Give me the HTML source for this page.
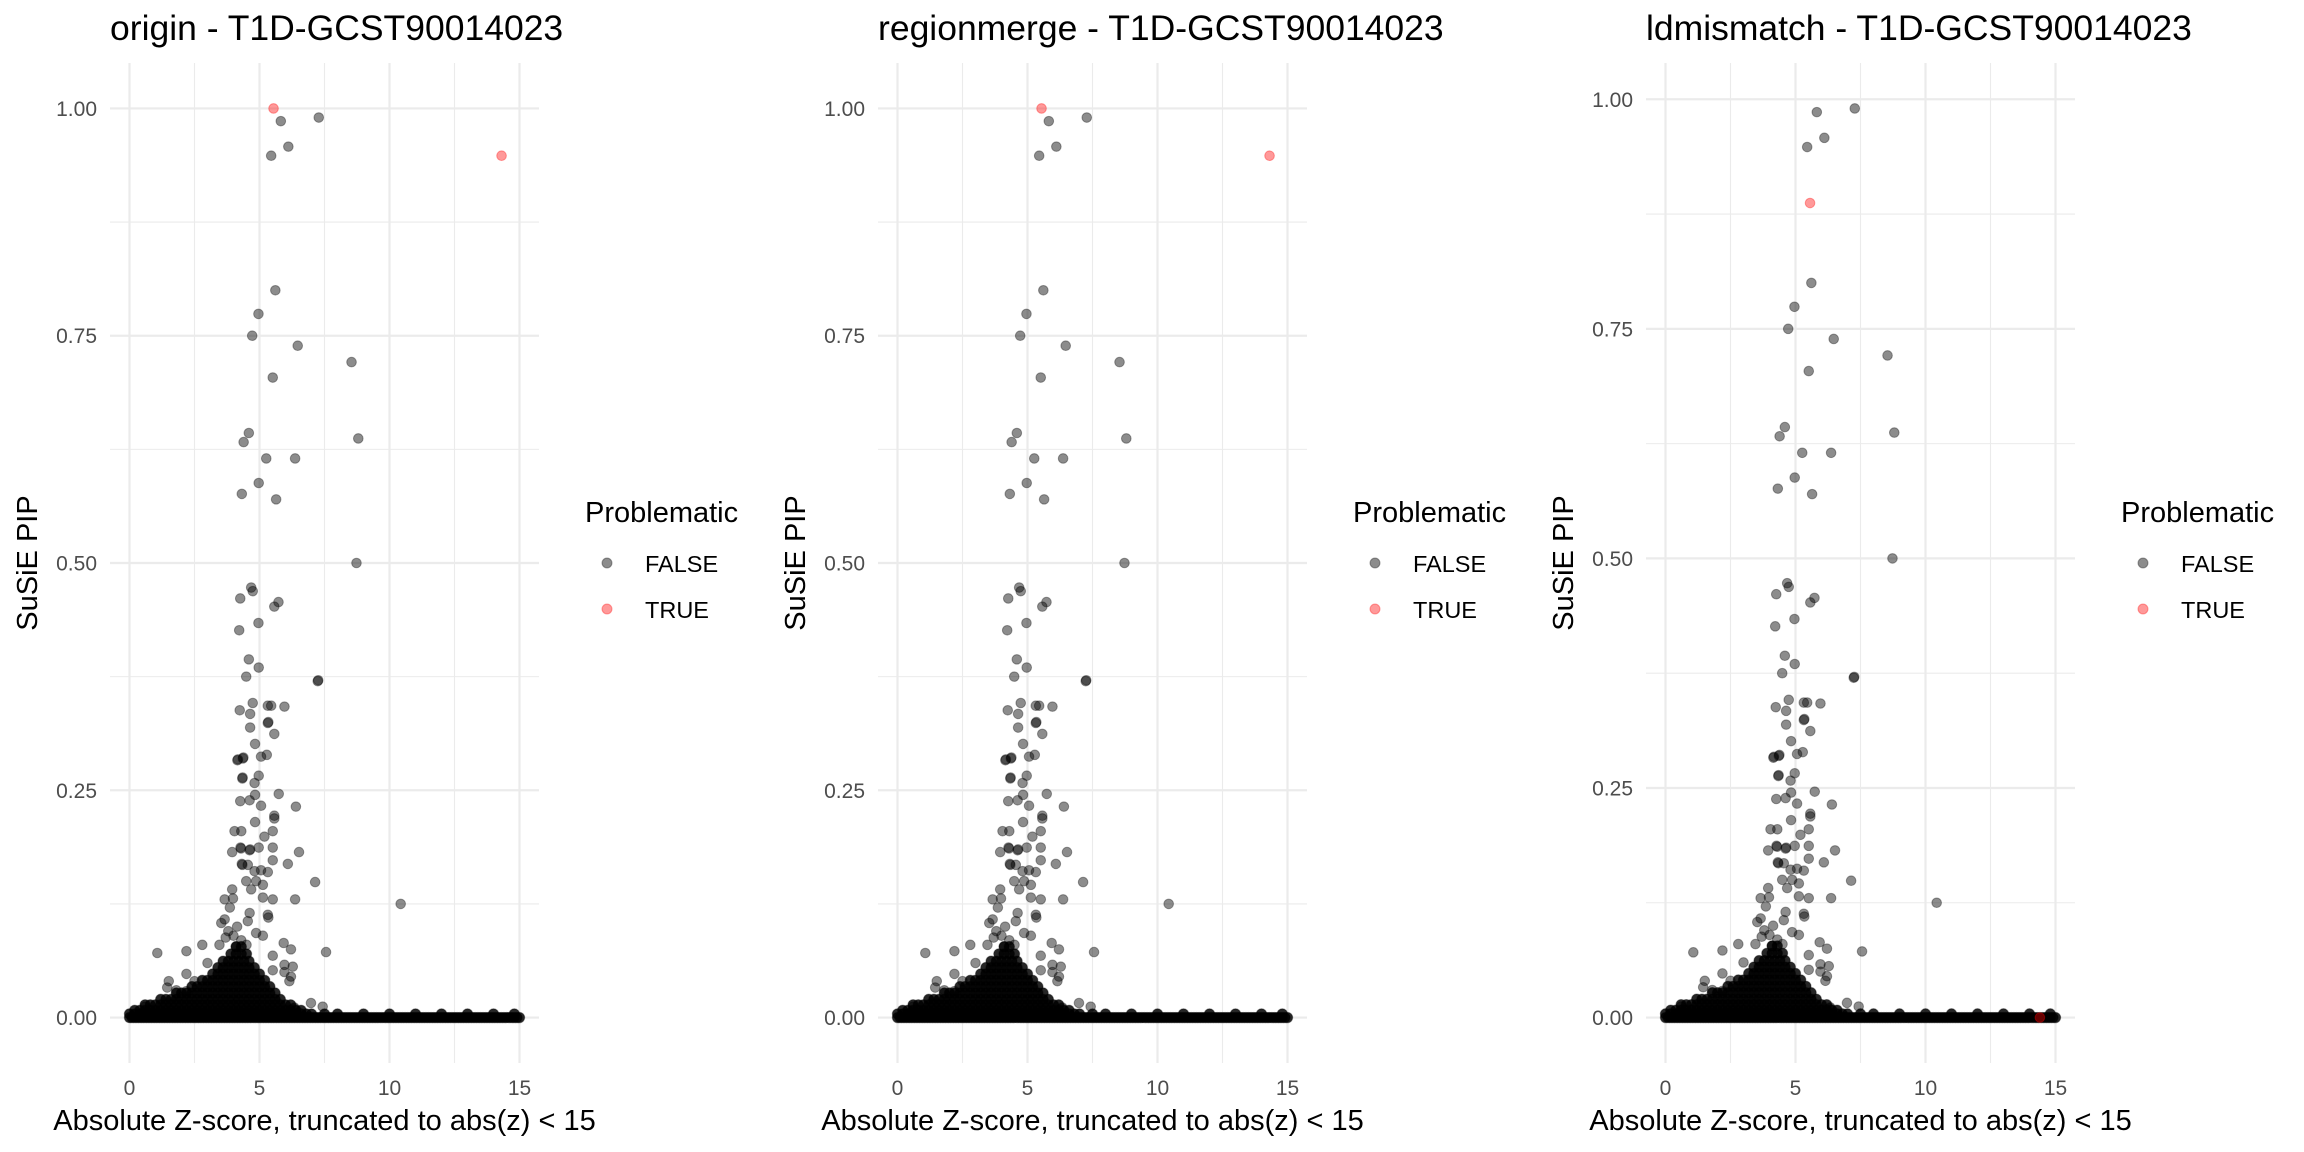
<!DOCTYPE html>
<html><head><meta charset="utf-8"><style>
html,body{margin:0;padding:0;background:#fff;}
svg{display:block;font-family:"Liberation Sans",sans-serif;}
</style></head><body>
<svg id="chart" width="2304" height="1152" viewBox="0 0 2304 1152" xmlns="http://www.w3.org/2000/svg">
<rect width="2304" height="1152" fill="#fff"/>
</svg>
<script>
// ---- data ----
const panelTitles = ["origin - T1D-GCST90014023","regionmerge - T1D-GCST90014023","ldmismatch - T1D-GCST90014023"];
const xTicks = [0,5,10,15];
const yTicks = [0,0.25,0.5,0.75,1];
const yTickLabels = ["0.00","0.25","0.50","0.75","1.00"];
const legendLabels = ["FALSE","TRUE"];

const peakZ = [5.82,7.28,6.11,5.45,5.61,4.96,4.72,6.47,8.54,5.51,4.59,4.39,8.80,5.26,6.37,4.97,4.32,5.64,8.73];
const peakPip = [0.986,0.990,0.958,0.948,0.800,0.774,0.750,0.739,0.721,0.704,0.643,0.633,0.637,0.615,0.615,0.588,0.576,0.570,0.500];

const midZ = [4.68,4.74,4.26,5.73,5.57,4.96,4.22,4.59,4.97,4.49,7.24,7.26,4.74,5.32,5.45,5.96,4.24,4.64,5.32,5.34,4.64,5.57,4.83,4.15,4.17,4.36,4.38,5.06,5.28,4.34,4.35,4.97,4.81,5.74,4.83,4.26,4.62,5.06,6.40,5.57,4.83,5.57,4.04,4.30,5.51,5.19,3.95,4.27,4.29,4.62,4.64,4.97,5.51,6.52,5.51,6.09,4.32,4.34,4.55,4.81,5.06,5.32,4.49,4.87,5.13,7.14,3.95,4.68,5.13,5.51,6.37,3.66,3.98,3.86,4.62,5.32,5.34,3.53,3.66,4.55,4.14,4.87,5.13,2.80,3.46,2.19,1.07,5.93,6.21,7.56,5.51,5.96,6.28,6.21,6.15,5.96,5.51,2.19,1.51,1.45,2.19,6.98,7.43,6.32,6.34,10.43,3.8,4.0,4.3,4.5,3.7,4.1,2.5,3.0,1.8,0.6];
const midPip = [0.473,0.469,0.461,0.457,0.452,0.434,0.426,0.394,0.385,0.375,0.370,0.371,0.346,0.343,0.343,0.342,0.338,0.334,0.324,0.325,0.319,0.312,0.301,0.283,0.284,0.285,0.286,0.287,0.289,0.263,0.264,0.266,0.258,0.246,0.245,0.238,0.239,0.233,0.232,0.222,0.215,0.219,0.205,0.205,0.205,0.199,0.182,0.187,0.186,0.184,0.185,0.187,0.187,0.182,0.173,0.169,0.169,0.168,0.168,0.161,0.162,0.160,0.150,0.150,0.146,0.149,0.141,0.141,0.132,0.130,0.130,0.130,0.131,0.121,0.115,0.113,0.110,0.104,0.108,0.106,0.100,0.093,0.090,0.080,0.080,0.073,0.071,0.082,0.075,0.072,0.068,0.058,0.056,0.045,0.040,0.050,0.052,0.048,0.040,0.033,0.029,0.016,0.012,0.010,0.011,0.125,0.095,0.090,0.085,0.080,0.088,0.078,0.040,0.060,0.030,0.012];

// dense cluster near zero, one row per PIP level
const blobRowPip = [0.008,0.014,0.020,0.027,0.034,0.041,0.048,0.055,0.062,0.070,0.078];
const blobRowZ = [
 [0.2,0.4,0.6,0.8,1.0,1.2,1.4,1.6,1.8,2.0,2.2,2.4,2.6,2.8,3.0,3.2,3.4,3.6,3.8,4.0,4.2,4.4,4.6,4.8,5.0,5.2,5.4,5.6,5.8,6.0,6.2,6.4,6.6],
 [0.6,0.8,1.0,1.2,1.4,1.6,1.8,2.0,2.2,2.4,2.6,2.8,3.0,3.2,3.4,3.6,3.8,4.0,4.2,4.4,4.6,4.8,5.0,5.2,5.4,5.6,5.8,6.0,6.2],
 [1.2,1.4,1.6,1.8,2.0,2.2,2.4,2.6,2.8,3.0,3.2,3.4,3.6,3.8,4.0,4.2,4.4,4.6,4.8,5.0,5.2,5.4,5.6,5.8],
 [1.8,2.0,2.2,2.4,2.6,2.8,3.0,3.2,3.4,3.6,3.8,4.0,4.2,4.4,4.6,4.8,5.0,5.2,5.4,5.6],
 [2.4,2.6,2.8,3.0,3.2,3.4,3.6,3.8,4.0,4.2,4.4,4.6,4.8,5.0,5.2,5.4],
 [2.8,3.0,3.2,3.4,3.6,3.8,4.0,4.2,4.4,4.6,4.8,5.0,5.2],
 [3.2,3.4,3.6,3.8,4.0,4.2,4.4,4.6,4.8,5.0],
 [3.4,3.6,3.8,4.0,4.2,4.4,4.6,4.8],
 [3.6,3.8,4.0,4.2,4.4,4.6],
 [3.9,4.1,4.3,4.5],
 [4.1,4.3]
];
// band of near-zero PIPs spanning the full z range
const bandPip = [0, 0.004];
const bandZ = [
 [0,0.1,0.2,0.3,0.4,0.5,0.6,0.7,0.8,0.9,1.0,1.1,1.2,1.3,1.4,1.5,1.6,1.7,1.8,1.9,2.0,2.1,2.2,2.3,2.4,2.5,2.6,2.7,2.8,2.9,3.0,3.1,3.2,3.3,3.4,3.5,3.6,3.7,3.8,3.9,4.0,4.1,4.2,4.3,4.4,4.5,4.6,4.7,4.8,4.9,5.0,5.1,5.2,5.3,5.4,5.5,5.6,5.7,5.8,5.9,6.0,6.1,6.2,6.3,6.4,6.5,6.6,6.7,6.8,6.9,7.0,7.1,7.2,7.3,7.4,7.5,7.6,7.7,7.8,7.9,8.0,8.1,8.2,8.3,8.4,8.5,8.6,8.7,8.8,8.9,9.0,9.1,9.2,9.3,9.4,9.5,9.6,9.7,9.8,9.9,10.0,10.1,10.2,10.3,10.4,10.5,10.6,10.7,10.8,10.9,11.0,11.1,11.2,11.3,11.4,11.5,11.6,11.7,11.8,11.9,12.0,12.1,12.2,12.3,12.4,12.5,12.6,12.7,12.8,12.9,13.0,13.1,13.2,13.3,13.4,13.5,13.6,13.7,13.8,13.9,14.0,14.1,14.2,14.3,14.4,14.5,14.6,14.7,14.8,14.9,15.0],
 [0,0.2,0.4,0.6,0.8,1.0,1.2,1.4,1.6,1.8,2.0,2.2,2.4,2.6,2.8,3.0,3.2,3.4,3.6,3.8,4.0,4.2,4.4,4.6,4.8,5.0,5.2,5.4,5.6,5.8,6.0,6.2,6.4,6.6,6.8,7.0,7.5,8.0,9.0,10.0,11.0,12.0,13.0,14.0,14.8]
];
const trueZ = [[5.54,14.31],[5.54,14.31],[5.56,14.4]];
const truePip = [[1.0,0.948],[1.0,0.948],[0.887,0.0]];

// ---- drawing ----
const NS = "http://www.w3.org/2000/svg";
const svg = document.getElementById("chart");
function mk(tag, attrs, parent){
  const e = document.createElementNS(NS, tag);
  for (const k in attrs) e.setAttribute(k, attrs[k]);
  (parent||svg).appendChild(e);
  return e;
}
const PANEL_W = 768, PL = 110, PR = 539, PT = 63, PB = 1063;
const xMin = 0, xMax = 15;

for (let pi = 0; pi < 3; pi++) {
  const ox = pi * PANEL_W;
  const g = mk("g", {});
  
  

  let allP = peakPip.concat(midPip, blobRowPip, bandPip, truePip[pi]);
  const yMaxD = Math.max(...allP), yMinD = 0;
  const yPad = (yMaxD - yMinD) * 0.05, xPad = (xMax - xMin) * 0.05;
  const xs = v => ox + PL + (v - (xMin - xPad)) / ((xMax + xPad) - (xMin - xPad)) * (PR - PL);
  const ys = v => PB - (v - (yMinD - yPad)) / ((yMaxD + yPad) - (yMinD - yPad)) * (PB - PT);

  const grid = mk("g", {}, g);
  
  
  for (let i = 0; i < yTicks.length - 1; i++) {
    const m = (yTicks[i] + yTicks[i+1]) / 2;
    mk("line", {x1: ox+PL, x2: ox+PR, y1: ys(m), y2: ys(m), stroke: "#ebebeb", "stroke-width": 1.1}, grid);
  }
  for (let i = 0; i < xTicks.length - 1; i++) {
    const m = (xTicks[i] + xTicks[i+1]) / 2;
    mk("line", {y1: PT, y2: PB, x1: xs(m), x2: xs(m), stroke: "#ebebeb", "stroke-width": 1.1}, grid);
  }
  yTicks.forEach(t => mk("line", {x1: ox+PL, x2: ox+PR, y1: ys(t), y2: ys(t), stroke: "#ebebeb", "stroke-width": 2.2}, grid));
  xTicks.forEach(t => mk("line", {y1: PT, y2: PB, x1: xs(t), x2: xs(t), stroke: "#ebebeb", "stroke-width": 2.2}, grid));

  yTicks.forEach((t, i) => {
    const tx = mk("text", {x: ox+97, y: ys(t)+7.5, "text-anchor": "end", "font-size": 21, fill: "#4d4d4d"}, g);
    tx.textContent = yTickLabels[i];
    
    
  });
  xTicks.forEach(t => {
    const tx = mk("text", {x: xs(t), y: 1095, "text-anchor": "middle", "font-size": 21, fill: "#4d4d4d"}, g);
    tx.textContent = String(t);
    
    
  });

  const pts = mk("g", {}, g);
  
  
  // dense marks stand in for thousands of overlapping points, so they render darker
  function dot(z, p, parent, red, dense) {
    const c = mk("circle", {cx: xs(z), cy: ys(p), r: dense ? 5.2 : 4.8,
      fill: red ? "rgba(255,0,0,0.4)" : (dense ? "rgba(0,0,0,0.85)" : "rgba(0,0,0,0.45)"),
      stroke: red ? "rgba(255,0,0,0.35)" : "rgba(0,0,0,0.35)", "stroke-width": 1}, parent);
    
    
  }
  bandPip.forEach((p, r) => bandZ[r].forEach(z => dot(z, p, pts, false, true)));
  blobRowPip.forEach((p, r) => blobRowZ[r].forEach(z => dot(z, p, pts, false, true)));
  midZ.forEach((z, i) => dot(z, midPip[i], pts, false, false));
  peakZ.forEach((z, i) => dot(z, peakPip[i], pts, false, false));
  const tp = mk("g", {}, g);
  
  
  trueZ[pi].forEach((z, i) => dot(z, truePip[pi][i], tp, true, false));

  const title = mk("text", {x: ox+110, y: 40, "font-size": 35.5, fill: "#000"}, g);
  title.textContent = panelTitles[pi];
  
  
  const xt = mk("text", {x: ox + (PL+PR)/2, y: 1130, "text-anchor": "middle", "font-size": 29, fill: "#000"}, g);
  xt.textContent = "Absolute Z-score, truncated to abs(z) < 15";
  
  
  const yt = mk("text", {x: 0, y: 0, "text-anchor": "middle", "font-size": 29, fill: "#000",
    transform: "translate(" + (ox+37) + "," + (PT+PB)/2 + ") rotate(-90)"}, g);
  yt.textContent = "SuSiE PIP";
  
  

  const lg = mk("g", {}, g);
  
  
  const lt = mk("text", {x: ox+585, y: 522, "font-size": 29, fill: "#000"}, lg);
  lt.textContent = "Problematic";
  
  
  legendLabels.forEach((lab, i) => {
    const cy = 563 + i * 46;
    const c = mk("circle", {cx: ox+607, cy: cy, r: 5,
      fill: i ? "rgba(255,0,0,0.4)" : "rgba(0,0,0,0.45)",
      stroke: i ? "rgba(255,0,0,0.35)" : "rgba(0,0,0,0.35)", "stroke-width": 1}, lg);
    
    
    const t = mk("text", {x: ox+645, y: cy+9, "font-size": 23.5, fill: "#000"}, lg);
    t.textContent = lab;
    
    
  });
}
</script>
</body></html>
